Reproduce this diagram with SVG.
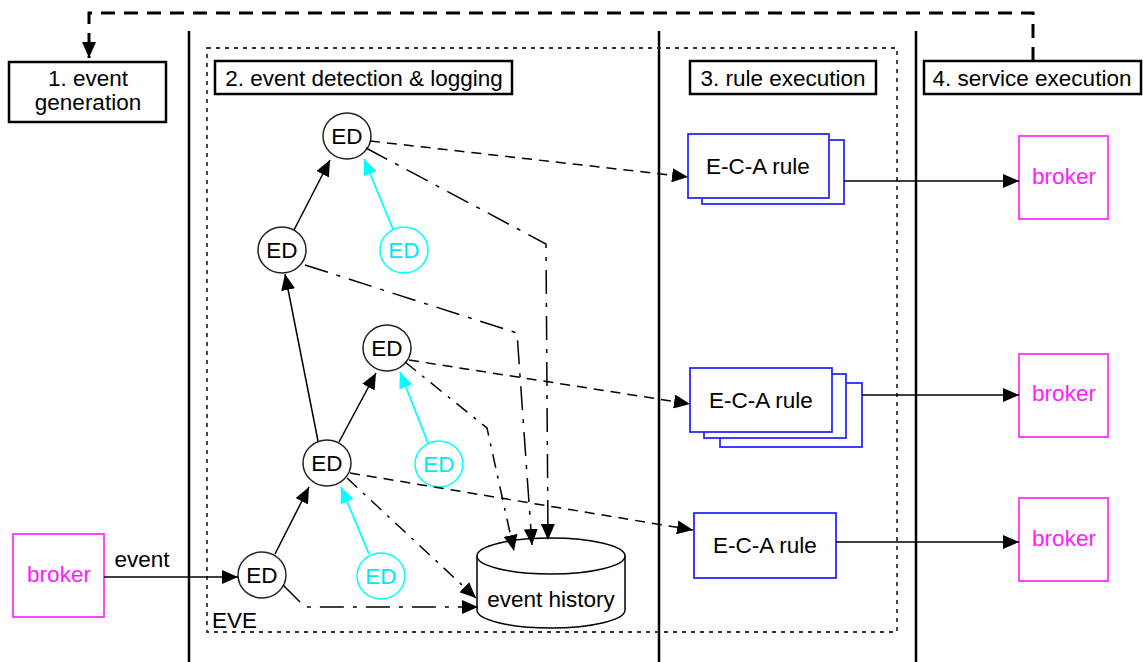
<svg xmlns="http://www.w3.org/2000/svg" width="1143" height="662" viewBox="0 0 1143 662">
<defs>
<style>
text{font-family:"Liberation Sans",Arial,sans-serif;font-size:22.5px;fill:#000}
.lane{stroke:#000;stroke-width:2.5;fill:none}
.lbl{fill:#fff;stroke:#000;stroke-width:2.5}
.ed{fill:#fff;stroke:#222;stroke-width:1.5}
.edc{fill:#fff;stroke:#00ffff;stroke-width:1.5}
.cyt{fill:#00e8f0}
.eca{fill:#fff;stroke:#2a2aff;stroke-width:1.8}
.brk{fill:#fff;stroke:#ff33ff;stroke-width:1.8}
.mag{fill:#ff1aff}
.sol{stroke:#000;stroke-width:1.5;fill:none;marker-end:url(#ah)}
.cy{stroke:#00ffff;stroke-width:1.8;fill:none;marker-end:url(#ahc)}
.dsh{stroke:#000;stroke-width:1.5;fill:none;stroke-dasharray:10 7;marker-end:url(#ah)}
.dd{stroke:#000;stroke-width:1.5;fill:none;stroke-dasharray:24 9 4 9;marker-end:url(#ah)}
.dd2{stroke:#000;stroke-width:1.5;fill:none;stroke-dasharray:14 8 3 8;marker-end:url(#ah)}
</style>
<marker id="ah" viewBox="0 0 16 14" refX="16" refY="7" markerWidth="16" markerHeight="14" orient="auto" markerUnits="userSpaceOnUse"><path d="M0,0 L16,7 L0,14 z" fill="#000"/></marker>
<marker id="ahc" viewBox="0 0 16 14" refX="16" refY="7" markerWidth="16" markerHeight="14" orient="auto" markerUnits="userSpaceOnUse"><path d="M0,0 L16,7 L0,14 z" fill="#00ffff"/></marker>
<marker id="ahb" viewBox="0 0 16 14" refX="16" refY="7" markerWidth="16" markerHeight="14" orient="auto" markerUnits="userSpaceOnUse"><path d="M0,0 L16,7 L0,14 z" fill="#000"/></marker>
</defs>
<rect width="1143" height="662" fill="#fff"/>
<g id="lanes">
<line class="lane" x1="189" y1="31" x2="189" y2="662"/>
<line class="lane" x1="659" y1="31" x2="659" y2="662"/>
<line class="lane" x1="916" y1="31" x2="916" y2="662"/>
<rect id="eve-box" x="207" y="48" width="690" height="584" fill="none" stroke="#333" stroke-width="1.8" stroke-dasharray="4 5"/>
<text x="212" y="628">EVE</text>
</g>
<g id="lane1"><rect class="lbl" x="9" y="62" width="157" height="60"/><text x="88" y="86" text-anchor="middle">1. event</text><text x="88" y="110" text-anchor="middle">generation</text></g>
<g id="lane2"><rect class="lbl" x="215" y="61" width="297" height="33"/><text x="364" y="86" text-anchor="middle">2. event detection &amp; logging</text></g>
<g id="lane3"><rect class="lbl" x="690" y="61" width="186" height="33"/><text x="783" y="86" text-anchor="middle">3. rule execution</text></g>
<g id="lane4"><rect class="lbl" x="924" y="61" width="217" height="33"/><text x="1032" y="86" text-anchor="middle">4. service execution</text></g>

<g id="broker-src"><rect class="brk" x="13" y="534" width="91" height="83"/><text class="mag" x="59" y="582" text-anchor="middle">broker</text></g>
<g id="ed1"><ellipse class="ed" cx="347" cy="136" rx="24" ry="23"/><text x="347" y="144" text-anchor="middle">ED</text></g>
<g id="ed2"><ellipse class="ed" cx="282" cy="250" rx="24" ry="23"/><text x="282" y="258" text-anchor="middle">ED</text></g>
<g id="ed3"><ellipse class="ed" cx="387" cy="348" rx="24" ry="23"/><text x="387" y="356" text-anchor="middle">ED</text></g>
<g id="ed4"><ellipse class="ed" cx="327" cy="463" rx="24" ry="23"/><text x="327" y="471" text-anchor="middle">ED</text></g>
<g id="ed5"><ellipse class="ed" cx="262" cy="575" rx="24" ry="23"/><text x="262" y="583" text-anchor="middle">ED</text></g>
<g id="edc1"><ellipse class="edc" cx="404" cy="250" rx="24" ry="23"/><text class="cyt" x="404" y="258" text-anchor="middle">ED</text></g>
<g id="edc2"><ellipse class="edc" cx="439" cy="464" rx="24" ry="23"/><text class="cyt" x="439" y="472" text-anchor="middle">ED</text></g>
<g id="edc3"><ellipse class="edc" cx="381" cy="576" rx="24" ry="23"/><text class="cyt" x="381" y="584" text-anchor="middle">ED</text></g>
<g id="history"><path d="M477,556 A74,18 0 0 1 625,556 V610 A74,18 0 0 1 477,610 Z" fill="#fff" stroke="#000" stroke-width="1.5"/><path d="M477,556 A74,18 0 0 0 625,556" fill="none" stroke="#000" stroke-width="1.5"/><text x="551" y="607" text-anchor="middle">event history</text></g>
<g id="eca1"><rect class="eca" x="702" y="140" width="142" height="64"/><rect class="eca" x="688" y="134" width="141" height="64"/><text x="758" y="174" text-anchor="middle">E-C-A rule</text></g>
<g id="eca2"><rect class="eca" x="720" y="383" width="142" height="64"/><rect class="eca" x="704" y="374" width="142" height="64"/><rect class="eca" x="690" y="368" width="142" height="64"/><text x="761" y="408" text-anchor="middle">E-C-A rule</text></g>
<g id="eca3"><rect class="eca" x="694" y="513" width="142" height="65"/><text x="765" y="553" text-anchor="middle">E-C-A rule</text></g>
<g id="broker1"><rect class="brk" x="1019" y="136" width="89" height="83"/><text class="mag" x="1064" y="184" text-anchor="middle">broker</text></g>
<g id="broker2"><rect class="brk" x="1019" y="354" width="89" height="83"/><text class="mag" x="1064" y="401" text-anchor="middle">broker</text></g>
<g id="broker3"><rect class="brk" x="1019" y="498" width="89" height="83"/><text class="mag" x="1064" y="546" text-anchor="middle">broker</text></g>

<g id="connectors">
<path d="M1033,61 V13 H89 V58" fill="none" stroke="#000" stroke-width="3" stroke-dasharray="14 9" marker-end="url(#ahb)"/>
<path class="sol" d="M104,577 H238"/>
<text x="142" y="567" text-anchor="middle">event</text>
<path class="sol" d="M275,554 L309,487"/>
<path class="sol" d="M339,442 L376,373"/>
<path class="sol" d="M318,441 L285,274"/>
<path class="sol" d="M294,230 L330,160"/>
<path class="cy" d="M393,229 L364,159"/>
<path class="cy" d="M428,443 L400,372"/>
<path class="cy" d="M369,554 L341,487"/>
<path class="dsh" d="M370,141 L688,177"/>
<path class="dsh" d="M409,360 L690,404"/>
<path class="dsh" d="M350,473 L693,530"/>
<path class="dd" d="M366,148 L546,244 L548,540"/>
<path class="dd" d="M305,265 L517,333 L532,545"/>
<path class="dd2" d="M405,362 L487,428 L514,551"/>
<path class="dd2" d="M347,478 L476,598"/>
<path class="dd" d="M283,585 L305,607 H478"/>
<path class="sol" d="M844,181 H1019"/>
<path class="sol" d="M862,395 H1019"/>
<path class="sol" d="M836,542 H1019"/>
</g>
</svg>
